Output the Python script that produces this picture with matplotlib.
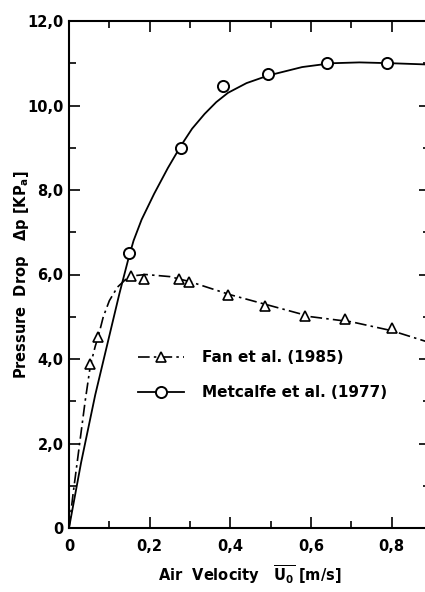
import numpy as np
import matplotlib.pyplot as plt
from matplotlib.lines import Line2D
from matplotlib.ticker import FixedLocator, FuncFormatter

# measured points
fan_u = [0.053, 0.073, 0.153, 0.186, 0.273, 0.298, 0.393, 0.486, 0.584, 0.684, 0.80]
fan_dp = [3.87, 4.53, 5.97, 5.90, 5.90, 5.82, 5.52, 5.26, 5.02, 4.95, 4.74]
met_u = [0.148, 0.277, 0.381, 0.494, 0.639, 0.787]
met_dp = [6.50, 8.99, 10.47, 10.75, 11.01, 11.01]

# hand drawn fitted curves
fan_cu = [0, 0.01, 0.025, 0.04, 0.053, 0.065, 0.073, 0.085, 0.10, 0.12, 0.14, 0.16,
          0.19, 0.25, 0.30, 0.40, 0.50, 0.60, 0.70, 0.80, 0.89]
fan_cp = [0, 0.80, 1.90, 3.00, 3.85, 4.30, 4.55, 5.00, 5.38, 5.70, 5.88, 5.97,
          6.00, 5.95, 5.83, 5.52, 5.26, 5.00, 4.88, 4.67, 4.40]
met_cu = [0, 0.03, 0.065, 0.10, 0.125, 0.148, 0.16, 0.18, 0.211, 0.245, 0.2775, 0.305,
          0.336, 0.365, 0.394, 0.44, 0.494, 0.578, 0.65, 0.72, 0.80, 0.89]
met_cp = [0, 1.55, 3.15, 4.55, 5.55, 6.40, 6.80, 7.30, 7.91, 8.52, 9.05, 9.45,
          9.80, 10.08, 10.30, 10.53, 10.71, 10.91, 11.00, 11.02, 11.00, 10.97]

xmaj = [0, 0.2, 0.4, 0.6, 0.8]
xmin = [0.1, 0.3, 0.5, 0.7]
ymaj = [0, 2, 4, 6, 8, 10, 12]
ymin = [1, 3, 5, 7, 9, 11]

plt.rcParams['font.family'] = ['DejaVu Sans']
plt.rcParams['font.weight'] = 'bold'
plt.rcParams['axes.labelweight'] = 'bold'
plt.rcParams['mathtext.default'] = 'bf'
fig = plt.figure(figsize=(4.25, 5.92), dpi=100)
ax = fig.add_axes([69/425, 64/592, 1.012 - 69/425, 507/592])

dashdot = (0, (7, 2.5, 1.5, 2.5))
ax.plot(fan_cu, fan_cp, color='black', lw=1.2, linestyle=dashdot)
ax.plot(met_cu, met_cp, color='black', lw=1.3)
ax.plot(fan_u, fan_dp, linestyle='none', marker='^', ms=7.5, mfc='white',
        mec='black', mew=1.2, zorder=3)
ax.plot(met_u, met_dp, linestyle='none', marker='o', ms=8, mfc='white',
        mec='black', mew=1.4, zorder=3)

ax.set_xlim(0, 0.895)
ax.set_ylim(0, 12)

def comma(v, pos):
    if v == 0:
        return '0'
    return ('%.1f' % v).replace('.', ',')

ax.xaxis.set_major_locator(FixedLocator(xmaj))
ax.xaxis.set_minor_locator(FixedLocator(xmin))
ax.yaxis.set_major_locator(FixedLocator(ymaj))
ax.yaxis.set_minor_locator(FixedLocator(ymin))
ax.xaxis.set_major_formatter(FuncFormatter(comma))
ax.yaxis.set_major_formatter(FuncFormatter(comma))
ax.tick_params(which='both', direction='in', top=True, right=True, width=1.2,
               labelsize=10.5)
ax.tick_params(which='major', length=8)
ax.tick_params(which='minor', length=5)
ax.tick_params(axis='y', which='major', pad=4)
ax.tick_params(axis='x', which='major', pad=8)
for s in ax.spines.values():
    s.set_linewidth(1.5)

ax.set_xlabel(r'Air  Velocity   $\overline{U_0}$ [m/s]', fontsize=10.5, labelpad=7)
ax.set_ylabel(r'Pressure  Drop   $\Delta$p [KP$_a$]', fontsize=10.5)
ax.yaxis.set_label_coords(-0.105, 0.5)

handles = [
    Line2D([], [], color='black', lw=1.2, linestyle=dashdot, marker='^', ms=7.5,
           mfc='white', mec='black', mew=1.2),
    Line2D([], [], color='black', lw=1.3, marker='o', ms=8, mfc='white',
           mec='black', mew=1.4),
]
ax.legend(handles, ['Fan et al. (1985)', 'Metcalfe et al. (1977)'],
          loc='upper left', bbox_to_anchor=(0.153, 0.378), frameon=False,
          prop={'size': 11, 'weight': 'bold'}, handlelength=3.0,
          handletextpad=1.2, labelspacing=1.3)

fig.savefig('out.png', dpi=100)
